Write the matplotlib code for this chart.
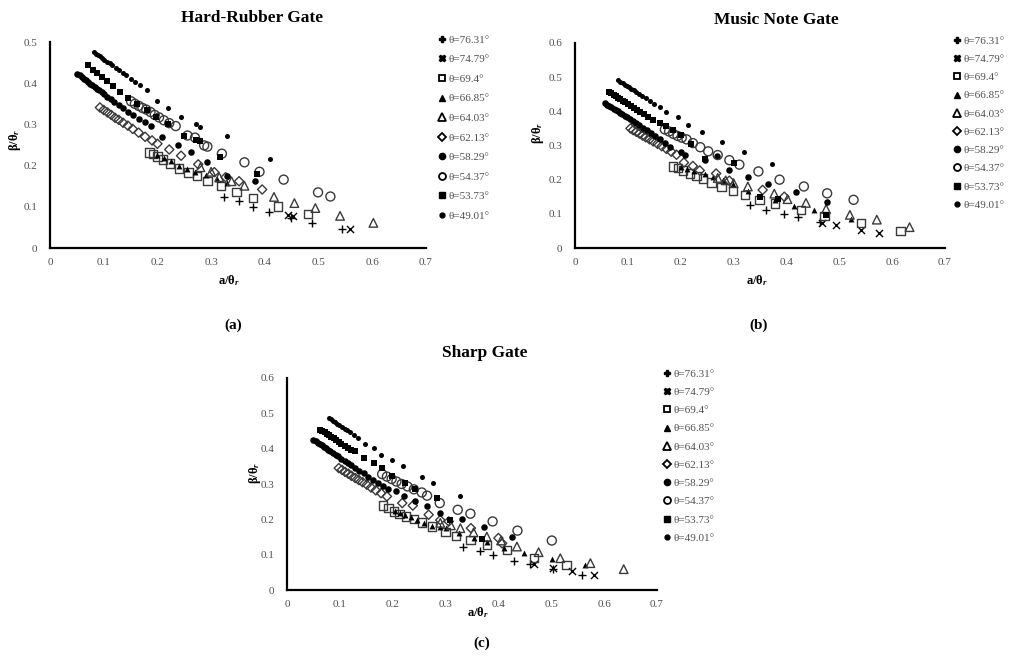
import matplotlib
matplotlib.use("Agg")
import matplotlib.pyplot as plt
from matplotlib.lines import Line2D

plt.rcParams['font.family'] = ['Liberation Serif', 'DejaVu Serif']
plt.rcParams['mathtext.fontset'] = 'custom'
plt.rcParams['mathtext.rm'] = 'Liberation Serif:bold'
plt.rcParams['mathtext.it'] = 'Liberation Serif:italic:bold'
plt.rcParams['mathtext.bf'] = 'Liberation Serif:bold'

# ---------------- data ----------------
series_labels = ['θ=76.31°', 'θ=74.79°', 'θ=69.4°', 'θ=66.85°', 'θ=64.03°',
                 'θ=62.13°', 'θ=58.29°', 'θ=54.37°', 'θ=53.73°', 'θ=49.01°']
xticks = [0, 0.1, 0.2, 0.3, 0.4, 0.5, 0.6, 0.7]
xtick_labels = ['0', '0.1', '0.2', '0.3', '0.4', '0.5', '0.6', '0.7']
yticks_a = [0, 0.1, 0.2, 0.3, 0.4, 0.5]
ytick_labels_a = ['0', '0.1', '0.2', '0.3', '0.4', '0.5']
yticks_bc = [0, 0.1, 0.2, 0.3, 0.4, 0.5, 0.6]
ytick_labels_bc = ['0', '0.1', '0.2', '0.3', '0.4', '0.5', '0.6']

# (a) Hard-Rubber Gate
hr_7631_x = [0.324, 0.351, 0.378, 0.407, 0.449, 0.487, 0.543]
hr_7631_y = [0.124, 0.113, 0.100, 0.087, 0.074, 0.060, 0.045]
hr_7479_x = [0.443, 0.452, 0.559]
hr_7479_y = [0.080, 0.078, 0.046]
hr_694_x = [0.185, 0.192, 0.2, 0.21, 0.223, 0.24, 0.258, 0.274, 0.293, 0.318, 0.347, 0.378, 0.425, 0.48]
hr_694_y = [0.232, 0.228, 0.222, 0.215, 0.205, 0.193, 0.183, 0.175, 0.162, 0.150, 0.136, 0.122, 0.101, 0.083]
hr_6685_x = [0.2, 0.212, 0.225, 0.24, 0.255, 0.27, 0.29, 0.31, 0.33]
hr_6685_y = [0.225, 0.218, 0.21, 0.2, 0.192, 0.185, 0.176, 0.168, 0.158]
hr_6403_x = [0.28, 0.3, 0.315, 0.338, 0.362, 0.417, 0.455, 0.494, 0.54, 0.602]
hr_6403_y = [0.196, 0.185, 0.172, 0.162, 0.151, 0.124, 0.109, 0.097, 0.078, 0.061]
hr_6213_x = [0.093, 0.1, 0.107, 0.114, 0.121, 0.128, 0.136, 0.145, 0.154, 0.165, 0.177, 0.19, 0.2,
             0.222, 0.244, 0.276, 0.306, 0.327, 0.352, 0.395]
hr_6213_y = [0.341, 0.335, 0.329, 0.323, 0.316, 0.311, 0.304, 0.297, 0.289, 0.280, 0.270, 0.261, 0.253,
             0.239, 0.224, 0.203, 0.184, 0.172, 0.162, 0.142]
hr_5829_x = [0.051, 0.055, 0.059, 0.063, 0.067, 0.071, 0.075, 0.079, 0.083, 0.087, 0.091, 0.096, 0.101,
             0.107, 0.113, 0.12, 0.128, 0.136, 0.145, 0.155, 0.165, 0.176, 0.188, 0.209, 0.238, 0.262,
             0.293, 0.33, 0.381]
hr_5829_y = [0.423, 0.419, 0.415, 0.411, 0.407, 0.403, 0.399, 0.395, 0.391, 0.387, 0.383, 0.378, 0.373,
             0.367, 0.361, 0.354, 0.346, 0.339, 0.331, 0.322, 0.314, 0.305, 0.295, 0.269, 0.249, 0.232,
             0.209, 0.175, 0.162]
hr_5437_x = [0.151, 0.158, 0.165, 0.172, 0.179, 0.187, 0.195, 0.203, 0.212, 0.222, 0.234, 0.256, 0.27,
             0.287, 0.293, 0.32, 0.362, 0.39, 0.435, 0.499, 0.522]
hr_5437_y = [0.356, 0.350, 0.345, 0.340, 0.336, 0.330, 0.323, 0.317, 0.310, 0.303, 0.296, 0.273, 0.268,
             0.249, 0.246, 0.229, 0.208, 0.185, 0.166, 0.135, 0.125]
hr_5373_x = [0.071, 0.08, 0.088, 0.096, 0.106, 0.118, 0.131, 0.146, 0.162, 0.18, 0.198, 0.22, 0.25,
             0.272, 0.28, 0.316, 0.386]
hr_5373_y = [0.443, 0.432, 0.424, 0.415, 0.405, 0.392, 0.378, 0.364, 0.350, 0.334, 0.318, 0.300, 0.272,
             0.262, 0.260, 0.222, 0.180]
hr_4901_x = [0.081, 0.085, 0.089, 0.093, 0.097, 0.101, 0.106, 0.111, 0.116, 0.122, 0.128, 0.135, 0.142,
             0.150, 0.158, 0.168, 0.180, 0.2, 0.219, 0.244, 0.272, 0.279, 0.33, 0.41]
hr_4901_y = [0.476, 0.472, 0.468, 0.465, 0.461, 0.457, 0.452, 0.448, 0.443, 0.437, 0.432, 0.425, 0.419,
             0.411, 0.404, 0.395, 0.384, 0.358, 0.340, 0.318, 0.302, 0.293, 0.271, 0.216]

# (b) Music Note Gate
mn_7631_x = [0.332, 0.362, 0.395, 0.421, 0.464]
mn_7631_y = [0.127, 0.112, 0.100, 0.092, 0.075]
mn_7479_x = [0.467, 0.494, 0.541, 0.575]
mn_7479_y = [0.073, 0.068, 0.053, 0.045]
mn_694_x = [0.186, 0.195, 0.204, 0.217, 0.23, 0.242, 0.258, 0.277, 0.299, 0.321, 0.349, 0.379, 0.428,
            0.472, 0.541, 0.616]
mn_694_y = [0.239, 0.234, 0.227, 0.218, 0.21, 0.203, 0.192, 0.178, 0.167, 0.155, 0.141, 0.13, 0.112,
            0.093, 0.073, 0.049]
mn_6685_x = [0.2, 0.212, 0.226, 0.245, 0.261, 0.28, 0.299, 0.327, 0.379, 0.415, 0.453, 0.522]
mn_6685_y = [0.238, 0.232, 0.225, 0.216, 0.209, 0.198, 0.188, 0.166, 0.141, 0.122, 0.110, 0.085]
mn_6403_x = [0.27, 0.285, 0.3, 0.327, 0.377, 0.402, 0.437, 0.475, 0.52, 0.571, 0.633]
mn_6403_y = [0.205, 0.198, 0.19, 0.18, 0.159, 0.143, 0.132, 0.114, 0.097, 0.083, 0.061]
mn_6213_x = [0.105, 0.11, 0.116, 0.122, 0.128, 0.134, 0.141, 0.148, 0.156, 0.164, 0.173, 0.182, 0.192,
             0.206, 0.223, 0.236, 0.267, 0.292, 0.355, 0.396]
mn_6213_y = [0.350, 0.345, 0.340, 0.335, 0.329, 0.324, 0.318, 0.312, 0.305, 0.298, 0.290, 0.282, 0.273,
             0.25, 0.24, 0.227, 0.218, 0.197, 0.170, 0.15]
mn_5829_x = [0.057, 0.061, 0.065, 0.069, 0.073, 0.077, 0.081, 0.085, 0.089, 0.094, 0.099, 0.104, 0.11,
             0.116, 0.122, 0.129, 0.136, 0.144, 0.152, 0.161, 0.17, 0.179, 0.2, 0.209, 0.245, 0.268,
             0.291, 0.327, 0.366, 0.418, 0.477]
mn_5829_y = [0.424, 0.420, 0.416, 0.412, 0.408, 0.404, 0.400, 0.396, 0.392, 0.387, 0.382, 0.377, 0.371,
             0.365, 0.359, 0.352, 0.344, 0.336, 0.328, 0.318, 0.308, 0.297, 0.28, 0.273, 0.259, 0.27,
             0.229, 0.209, 0.188, 0.163, 0.136]
mn_5437_x = [0.17, 0.178, 0.186, 0.194, 0.202, 0.211, 0.223, 0.237, 0.252, 0.27, 0.292, 0.311, 0.347,
             0.387, 0.433, 0.477, 0.527]
mn_5437_y = [0.347, 0.341, 0.334, 0.328, 0.323, 0.318, 0.307, 0.295, 0.283, 0.272, 0.257, 0.244, 0.224,
             0.200, 0.180, 0.160, 0.141]
mn_5373_x = [0.065, 0.069, 0.073, 0.077, 0.081, 0.085, 0.09, 0.095, 0.1, 0.105, 0.111, 0.117, 0.123,
             0.13, 0.138, 0.148, 0.16, 0.172, 0.185, 0.2, 0.22, 0.245, 0.3, 0.35, 0.384, 0.475]
mn_5373_y = [0.458, 0.453, 0.449, 0.445, 0.44, 0.436, 0.431, 0.426, 0.421, 0.416, 0.41, 0.404, 0.398,
             0.391, 0.383, 0.374, 0.365, 0.356, 0.346, 0.330, 0.305, 0.26, 0.25, 0.15, 0.143, 0.098]
mn_4901_x = [0.082, 0.086, 0.09, 0.094, 0.098, 0.102, 0.106, 0.111, 0.116, 0.121, 0.127, 0.134, 0.142,
             0.15, 0.16, 0.173, 0.195, 0.214, 0.24, 0.278, 0.319, 0.372]
mn_4901_y = [0.491, 0.487, 0.483, 0.478, 0.474, 0.470, 0.466, 0.461, 0.456, 0.451, 0.445, 0.438, 0.430,
             0.422, 0.412, 0.397, 0.382, 0.361, 0.339, 0.309, 0.280, 0.247]

# (c) Sharp Gate
sg_7631_x = [0.333, 0.366, 0.39, 0.43, 0.46, 0.504, 0.558]
sg_7631_y = [0.121, 0.109, 0.099, 0.083, 0.074, 0.059, 0.043]
sg_7479_x = [0.467, 0.503, 0.54, 0.58]
sg_7479_y = [0.074, 0.061, 0.054, 0.043]
sg_694_x = [0.182, 0.192, 0.203, 0.213, 0.225, 0.24, 0.255, 0.274, 0.3, 0.32, 0.347, 0.378, 0.416,
            0.467, 0.529]
sg_694_y = [0.239, 0.232, 0.222, 0.215, 0.208, 0.2, 0.191, 0.18, 0.165, 0.153, 0.142, 0.128, 0.113,
            0.09, 0.07]
sg_6685_x = [0.205, 0.214, 0.224, 0.235, 0.246, 0.26, 0.275, 0.29, 0.3, 0.325, 0.353, 0.378, 0.41,
             0.448, 0.501, 0.563]
sg_6685_y = [0.225, 0.219, 0.213, 0.206, 0.198, 0.19, 0.182, 0.178, 0.175, 0.161, 0.147, 0.135, 0.118,
             0.104, 0.088, 0.071]
sg_6403_x = [0.29, 0.31, 0.328, 0.353, 0.378, 0.405, 0.435, 0.476, 0.517, 0.574, 0.637]
sg_6403_y = [0.19, 0.183, 0.175, 0.163, 0.151, 0.14, 0.123, 0.107, 0.09, 0.076, 0.059]
sg_6213_x = [0.098, 0.104, 0.11, 0.116, 0.122, 0.129, 0.136, 0.143, 0.151, 0.159, 0.168, 0.178, 0.189,
             0.218, 0.238, 0.268, 0.29, 0.306, 0.348, 0.4, 0.407]
sg_6213_y = [0.345, 0.34, 0.334, 0.329, 0.323, 0.317, 0.311, 0.305, 0.298, 0.290, 0.282, 0.274, 0.265,
             0.246, 0.239, 0.213, 0.198, 0.194, 0.175, 0.147, 0.132]
sg_5829_x = [0.05, 0.054, 0.058, 0.062, 0.066, 0.07, 0.074, 0.078, 0.082, 0.087, 0.092, 0.097, 0.103,
             0.109, 0.115, 0.122, 0.129, 0.137, 0.145, 0.154, 0.163, 0.172, 0.182, 0.192, 0.207, 0.221,
             0.243, 0.265, 0.289, 0.331, 0.372, 0.426]
sg_5829_y = [0.425, 0.421, 0.417, 0.413, 0.409, 0.405, 0.401, 0.397, 0.393, 0.388, 0.383, 0.378, 0.372,
             0.366, 0.360, 0.353, 0.346, 0.338, 0.330, 0.321, 0.312, 0.303, 0.294, 0.285, 0.279, 0.267,
             0.252, 0.239, 0.219, 0.2, 0.177, 0.151]
sg_5437_x = [0.18, 0.189, 0.198, 0.207, 0.217, 0.228, 0.24, 0.255, 0.265, 0.289, 0.323, 0.347, 0.389,
             0.436, 0.501]
sg_5437_y = [0.328, 0.321, 0.314, 0.307, 0.300, 0.293, 0.285, 0.276, 0.267, 0.246, 0.227, 0.216, 0.194,
             0.168, 0.14]
sg_5373_x = [0.063, 0.067, 0.071, 0.075, 0.079, 0.083, 0.088, 0.093, 0.098, 0.103, 0.109, 0.115, 0.122,
             0.129, 0.146, 0.164, 0.18, 0.199, 0.224, 0.243, 0.284, 0.309, 0.369]
sg_5373_y = [0.454, 0.450, 0.446, 0.442, 0.438, 0.434, 0.429, 0.424, 0.419, 0.414, 0.408, 0.402, 0.396,
             0.392, 0.373, 0.359, 0.345, 0.323, 0.302, 0.285, 0.26, 0.198, 0.145]
sg_4901_x = [0.079, 0.083, 0.087, 0.091, 0.095, 0.099, 0.104, 0.109, 0.114, 0.12, 0.127, 0.135, 0.148,
             0.164, 0.177, 0.199, 0.219, 0.255, 0.277, 0.328]
sg_4901_y = [0.487, 0.483, 0.479, 0.475, 0.471, 0.467, 0.462, 0.457, 0.452, 0.446, 0.439, 0.431, 0.414,
             0.402, 0.383, 0.369, 0.350, 0.321, 0.302, 0.267]

# ---------------- styles ----------------
EDGE = '#3a3a3a'
styles = [
    dict(marker='+', s=32, c='black', linewidths=1.0),
    dict(marker='x', s=26, c='black', linewidths=1.0),
    dict(marker='s', s=36, facecolors='none', edgecolors=EDGE, linewidths=1.0),
    dict(marker='^', s=18, c='black', linewidths=0),
    dict(marker='^', s=38, facecolors='none', edgecolors=EDGE, linewidths=1.0),
    dict(marker='D', s=22, facecolors='none', edgecolors=EDGE, linewidths=1.0),
    dict(marker='o', s=22, c='black', linewidths=0),
    dict(marker='o', s=42, facecolors='none', edgecolors=EDGE, linewidths=1.0),
    dict(marker='s', s=22, c='black', linewidths=0),
    dict(marker='o', s=13, c='black', linewidths=0),
]
leg_styles = [
    dict(marker='P', ms=5, mfc='black', mec='black'),
    dict(marker='X', ms=5, mfc='black', mec='black'),
    dict(marker='s', ms=5, mfc='none', mec='black', mew=1.3),
    dict(marker='^', ms=4, mfc='black', mec='black'),
    dict(marker='^', ms=5.5, mfc='none', mec='black', mew=1.3),
    dict(marker='D', ms=4, mfc='none', mec='black', mew=1.3),
    dict(marker='o', ms=4.5, mfc='black', mec='black'),
    dict(marker='o', ms=5, mfc='none', mec='black', mew=1.3),
    dict(marker='s', ms=5, mfc='black', mec='black'),
    dict(marker='o', ms=3.5, mfc='black', mec='black'),
]

W, H = 1013, 660
fig = plt.figure(figsize=(W / 100, H / 100), dpi=100)
GRAY = '#505050'


def px_axes(left, top, right, bottom):
    return fig.add_axes([left / W, 1 - bottom / H, (right - left) / W, (bottom - top) / H])


def setup(ax, ymax, yt, ytl):
    ax.set_xlim(0, 0.7)
    ax.set_ylim(0, ymax)
    ax.set_xticks(xticks)
    ax.set_xticklabels(xtick_labels)
    ax.set_yticks(yt)
    ax.set_yticklabels(ytl)
    for s in ['top', 'right']:
        ax.spines[s].set_visible(False)
    for s in ['left', 'bottom']:
        ax.spines[s].set_linewidth(1.6)
        ax.spines[s].set_color('black')
    ax.tick_params(length=0, labelsize=8, colors=GRAY, pad=7)
    ax.tick_params(axis='y', pad=9)
    ax.patch.set_alpha(0)


def draw(ax, xs, ys):
    for x, y, st in zip(xs, ys, styles):
        ax.scatter(x, y, clip_on=False, **st)


def legend(ax, x0, y0, spacing):
    handles = [Line2D([], [], linestyle='none', **ls) for ls in leg_styles]
    lg = ax.legend(handles, series_labels, loc='upper left',
                   bbox_to_anchor=(x0 / W, 1 - y0 / H), bbox_transform=fig.transFigure,
                   frameon=False, fontsize=8, handlelength=0.6, handletextpad=0.25,
                   labelspacing=spacing, borderaxespad=0, borderpad=0)
    for t in lg.get_texts():
        t.set_color(GRAY)


# (a)
ax_a = px_axes(50, 42, 426, 248)
setup(ax_a, 0.5, yticks_a, ytick_labels_a)
draw(ax_a,
     [hr_7631_x, hr_7479_x, hr_694_x, hr_6685_x, hr_6403_x, hr_6213_x, hr_5829_x, hr_5437_x, hr_5373_x, hr_4901_x],
     [hr_7631_y, hr_7479_y, hr_694_y, hr_6685_y, hr_6403_y, hr_6213_y, hr_5829_y, hr_5437_y, hr_5373_y, hr_4901_y])
legend(ax_a, 439, 35, 0.88)

# (b)
ax_b = px_axes(575, 43, 945, 248)
setup(ax_b, 0.6, yticks_bc, ytick_labels_bc)
draw(ax_b,
     [mn_7631_x, mn_7479_x, mn_694_x, mn_6685_x, mn_6403_x, mn_6213_x, mn_5829_x, mn_5437_x, mn_5373_x, mn_4901_x],
     [mn_7631_y, mn_7479_y, mn_694_y, mn_6685_y, mn_6403_y, mn_6213_y, mn_5829_y, mn_5437_y, mn_5373_y, mn_4901_y])
legend(ax_b, 954, 36, 0.76)

# (c)
ax_c = px_axes(287, 378, 657, 590)
setup(ax_c, 0.6, yticks_bc, ytick_labels_bc)
draw(ax_c,
     [sg_7631_x, sg_7479_x, sg_694_x, sg_6685_x, sg_6403_x, sg_6213_x, sg_5829_x, sg_5437_x, sg_5373_x, sg_4901_x],
     [sg_7631_y, sg_7479_y, sg_694_y, sg_6685_y, sg_6403_y, sg_6213_y, sg_5829_y, sg_5437_y, sg_5373_y, sg_4901_y])
legend(ax_c, 664, 369, 0.76)

# titles and labels
def ftext(x, y, s, **kw):
    fig.text(x / W, 1 - y / H, s, ha='center', va='center', **kw)

ftext(252, 18, 'Hard-Rubber Gate', fontsize=12.5, fontweight='bold')
ftext(776, 20, 'Music Note Gate', fontsize=12.5, fontweight='bold')
ftext(485, 353, 'Sharp Gate', fontsize=12.5, fontweight='bold')

xl = 'a/θ$_r$'
yl = 'β/θ$_r$'
ftext(229, 281, xl, fontsize=9, fontweight='bold')
ftext(757, 281, xl, fontsize=9, fontweight='bold')
ftext(478, 613, xl, fontsize=9, fontweight='bold')
ftext(15, 140, yl, fontsize=9, fontweight='bold', rotation=90)
ftext(538, 133, yl, fontsize=9, fontweight='bold', rotation=90)
ftext(255, 473, yl, fontsize=9, fontweight='bold', rotation=90)

ftext(233, 325, '(a)', fontsize=11, fontweight='bold')
ftext(759, 325, '(b)', fontsize=11, fontweight='bold')
ftext(482, 643, '(c)', fontsize=11, fontweight='bold')

fig.savefig('out.png', dpi=100)
